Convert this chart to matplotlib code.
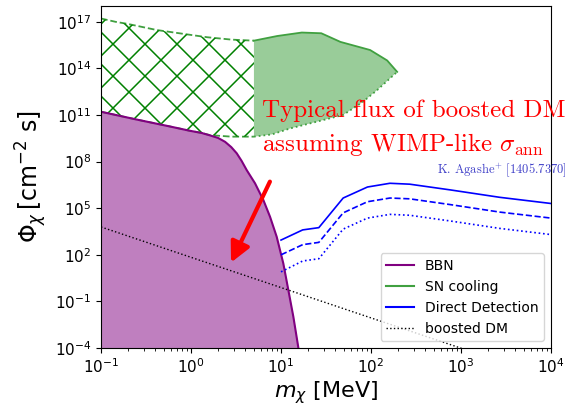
import numpy as np
import matplotlib
matplotlib.use("Agg")
import matplotlib.pyplot as plt
from matplotlib.lines import Line2D
from matplotlib.transforms import IdentityTransform
from matplotlib.ticker import NullLocator

plt.rcParams['mathtext.fontset'] = 'dejavusans'

# BBN bound
bbn_m = [0.1, 0.251, 0.585, 0.975, 1.3, 1.63, 2.0, 2.39, 2.8, 3.22, 3.65, 4.16, 5.14,
         6.37, 7.55, 8.95, 10.6, 12.05, 13.7, 15.6]
bbn_phi = [1.6e11, 5.0e10, 1.8e10, 9.5e9, 7.0e9, 4.8e9, 3.3e9, 1.86e9, 8.5e8, 3.4e8,
           1.1e8, 2.8e7, 4.0e6, 3.3e5, 2.8e4, 1.45e3, 2.8e1, 5.5e-1, 1.05e-2, 1.0e-4]

# SN cooling, hatched part (m < 5 MeV)
sn_hatch_m = [0.1, 0.145, 0.2, 0.417, 1.0, 1.51, 2.82, 5.0]
sn_hatch_top = [1.6e17, 9.8e16, 7.1e16, 2.9e16, 1.4e16, 1.0e16, 7.0e15, 6.0e15]
sn_hatch_low_m = [0.1, 0.251, 0.585, 0.975, 1.3, 1.63, 2.82, 5.0]
sn_hatch_low = [1.6e11, 5.0e10, 1.8e10, 9.5e9, 7.0e9, 5.0e9, 4.0e9, 4.0e9]

# SN cooling, filled part
sn_fill_m = [5.0, 9.1, 17.0, 28.0, 45.7, 97.7, 151.0, 195.0]
sn_fill_top = [6.0e15, 1.2e16, 2.0e16, 1.8e16, 5.0e15, 1.5e15, 3.2e14, 5.9e13]
sn_low_m = [5.0, 7.94, 12.6, 29.5, 49.0, 79.4, 117.0, 195.0]
sn_fill_low = [4.0e9, 5.6e9, 1.35e10, 4.7e10, 1.0e11, 6.3e11, 4.0e12, 5.9e13]

# Direct detection
dd_m = [10.0, 17.4, 26.3, 49.0, 91.2, 162.0, 269.0, 759.0, 2690.0, 10000.0]
dd_solid = [8.9e2, 4.0e3, 5.6e3, 4.5e5, 2.3e6, 4.0e6, 3.5e6, 1.5e6, 5.0e5, 2.0e5]
dd_dashed = [1.0e2, 4.5e2, 6.3e2, 5.0e4, 2.6e5, 4.5e5, 4.0e5, 1.7e5, 5.6e4, 2.3e4]
dd_dotted = [8.0e0, 4.0e1, 5.6e1, 4.5e3, 2.3e4, 4.0e4, 3.5e4, 1.5e4, 5.0e3, 2.0e3]

# boosted DM flux
bdm_m = [0.1, 1.0, 10.0, 100.0, 1000.0, 10000.0]
bdm_phi = [6.2e3, 6.9e1, 7.8e-1, 8.7e-3, 9.8e-5, 1.1e-6]

sn_col = '#40a040'

fig = plt.figure(figsize=(5.69, 4.09), dpi=100)
ax = fig.add_axes([0.1775, 0.149, 0.791, 0.836])
ax.set_xscale('log')
ax.set_yscale('log')
ax.set_xlim(0.1, 1e4)
ax.set_ylim(1e-4, 1e18)

# SN hatched region
hpoly = ax.fill(sn_hatch_m + sn_hatch_low_m[::-1], sn_hatch_top + sn_hatch_low[::-1],
                facecolor='none', edgecolor='none')[0]
ax.plot(sn_hatch_m, sn_hatch_top, color=sn_col, ls='--', lw=1.3)
ax.plot(sn_hatch_low_m, sn_hatch_low, color=sn_col, ls='--', lw=1.3)

# wide diagonal hatch, drawn in pixels and clipped to the region
bb = ax.bbox
step = 32
for c in np.arange(bb.x0 - 900, bb.x1 + 900, step):
    for sgn in (1, -1):
        ln = Line2D([c, c + sgn * 800], [bb.y0, bb.y0 + 800],
                    transform=IdentityTransform(), color='green', lw=1.1)
        ln.set_clip_path(hpoly)
        ax.add_artist(ln)

# SN filled region
ax.fill(sn_fill_m + sn_low_m[::-1], sn_fill_top + sn_fill_low[::-1],
        facecolor='green', alpha=0.4, edgecolor='none')
ax.plot(sn_fill_m, sn_fill_top, color=sn_col, lw=1.3)
ax.plot(sn_low_m, sn_fill_low, color=sn_col, ls=':', lw=1.3)

# BBN
ax.fill_between(bbn_m, bbn_phi, 1e-4, color='purple', alpha=0.5, lw=0)
ax.plot(bbn_m, bbn_phi, color='purple', lw=1.5)

# direct detection
ax.plot(dd_m, dd_solid, color='blue', lw=1.2)
ax.plot(dd_m, dd_dashed, color='blue', lw=1.2, ls='--')
ax.plot(dd_m, dd_dotted, color='blue', lw=1.2, ls=':')

ax.plot(bdm_m, bdm_phi, color='black', lw=1, ls=':')

ax.annotate('', xy=(2.7, 2.2e1), xytext=(7.76, 7.4e6),
            arrowprops=dict(arrowstyle='-|>', color='red', lw=3, mutation_scale=30))

ax.text(0.358, 0.728, 'Typical flux of boosted DM', transform=ax.transAxes,
        color='red', fontsize=18, family='cmr10', va='top', ha='left', clip_on=False)
ax.text(0.358, 0.635, r'assuming WIMP-like $\sigma_{\rm ann}$', transform=ax.transAxes,
        color='red', fontsize=18, family='cmr10', va='top', ha='left', clip_on=False,
        math_fontfamily='cm')
ax.text(1.036, 0.52, r'K. Agashe$^{+}$ [1405.7370]', transform=ax.transAxes,
        color='#4040c8', fontsize=9, family='cmr10', va='center', ha='right',
        math_fontfamily='cm')

ax.set_yticks([1e-4, 1e-1, 1e2, 1e5, 1e8, 1e11, 1e14, 1e17])
ax.yaxis.set_minor_locator(NullLocator())
ax.tick_params(labelsize=11)

ax.set_xlabel(r'$m_\chi$ [MeV]', fontsize=16, labelpad=2)
ax.set_ylabel(r'$\Phi_\chi\,$[cm$^{-2}$ s]', fontsize=17)

handles = [Line2D([], [], color='purple', lw=1.5),
           Line2D([], [], color=sn_col, lw=1.5),
           Line2D([], [], color='blue', lw=1.5),
           Line2D([], [], color='black', lw=1, ls=':')]
ax.legend(handles, ['BBN', 'SN cooling', 'Direct Detection', 'boosted DM'],
          loc='lower right', fontsize=10)

fig.savefig('out.png', dpi=100)
